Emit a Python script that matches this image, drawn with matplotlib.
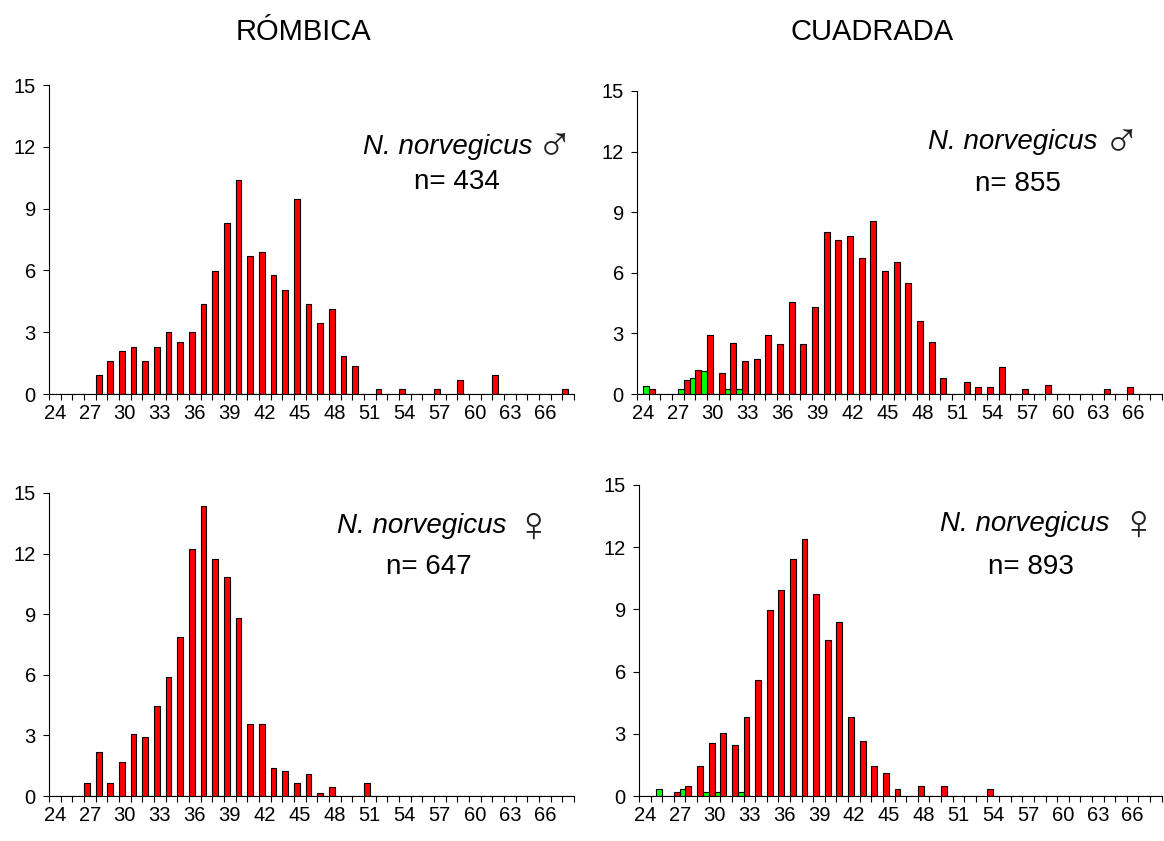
import matplotlib
matplotlib.use('Agg')
import matplotlib.pyplot as plt
from matplotlib.ticker import FixedLocator

plt.rcParams['font.family'] = ['Liberation Sans', 'DejaVu Sans']

# size classes (mm), 24..68
tallas = list(range(24, 69))

# % frequency per size class
rom_macho_rojo = [0, 0, 0, 0, 0.92, 1.61, 2.07, 2.30, 1.61, 2.30, 3.00, 2.53, 3.00, 4.38, 5.99,
                  8.29, 10.37, 6.68, 6.91, 5.76, 5.07, 9.45, 4.38, 3.46, 4.15, 1.84, 1.38, 0, 0.23,
                  0, 0.23, 0, 0, 0.23, 0, 0.69, 0, 0, 0.92, 0, 0, 0, 0, 0, 0.23]
rom_macho_verde = [0] * 45

cua_macho_rojo = [0, 0.23, 0, 0, 0.70, 1.17, 2.92, 1.05, 2.52, 1.64, 1.75, 2.92, 2.46, 4.56, 2.46,
                  4.33, 8.01, 7.60, 7.84, 6.72, 8.54, 6.08, 6.55, 5.50, 3.63, 2.57, 0.77, 0, 0.58,
                  0.35, 0.35, 1.34, 0, 0.23, 0, 0.47, 0, 0, 0, 0, 0.23, 0, 0.35, 0, 0]
cua_macho_verde = [0.41, 0, 0, 0.23, 0.77, 1.14, 0, 0.23, 0.23, 0, 0, 0, 0, 0, 0,
                   0, 0, 0, 0, 0, 0, 0, 0, 0, 0, 0, 0, 0, 0,
                   0, 0, 0, 0, 0, 0, 0, 0, 0, 0, 0, 0, 0, 0, 0, 0]

rom_hembra_rojo = [0, 0, 0, 0.62, 2.16, 0.62, 1.70, 3.09, 2.94, 4.48, 5.87, 7.88, 12.21, 14.37, 11.75,
                   10.82, 8.81, 3.55, 3.55, 1.39, 1.24, 0.62, 1.08, 0.15, 0.46, 0, 0, 0.62, 0,
                   0, 0, 0, 0, 0, 0, 0, 0, 0, 0, 0, 0, 0, 0, 0, 0]
rom_hembra_verde = [0] * 45

cua_hembra_rojo = [0, 0, 0, 0.17, 0.48, 1.43, 2.56, 3.02, 2.44, 3.80, 5.61, 8.96, 9.94, 11.44, 12.39,
                   9.73, 7.51, 8.38, 3.80, 2.64, 1.43, 1.13, 0.35, 0, 0.48, 0, 0.48, 0, 0,
                   0, 0.35, 0, 0, 0, 0, 0, 0, 0, 0, 0, 0, 0, 0, 0, 0]
cua_hembra_verde = [0, 0.35, 0, 0.35, 0, 0.17, 0.17, 0, 0.17, 0, 0, 0, 0, 0, 0,
                    0, 0, 0, 0, 0, 0, 0, 0, 0, 0, 0, 0, 0, 0,
                    0, 0, 0, 0, 0, 0, 0, 0, 0, 0, 0, 0, 0, 0, 0, 0]

paneles = [
    # rect, rojo, verde, sexo, n, (x, y) nombre, (x, y) simbolo, (x, y) n
    ([0.0421, 0.5315, 0.451, 0.3674], rom_macho_rojo, rom_macho_verde, '\u2642', 434,
     (0.92, 0.80), (0.962, 0.80), (0.777, 0.686)),
    ([0.5473, 0.5315, 0.451, 0.3603], cua_macho_rojo, cua_macho_verde, '\u2642', 855,
     (0.876, 0.832), (0.922, 0.828), (0.726, 0.694)),
    ([0.0421, 0.0535, 0.451, 0.3603], rom_hembra_rojo, rom_hembra_verde, '\u2640', 647,
     (0.872, 0.891), (0.922, 0.885), (0.724, 0.756)),
    ([0.549, 0.0535, 0.449, 0.37], cua_hembra_rojo, cua_hembra_verde, '\u2640', 893,
     (0.90, 0.875), (0.954, 0.87), (0.75, 0.736)),
]

fig = plt.figure(figsize=(11.64, 8.41), dpi=100)

for rect, rojo, verde, sexo, n, pos_nombre, pos_sim, pos_n in paneles:
    ax = fig.add_axes(rect)
    idx = list(range(len(tallas)))
    ax.bar(idx, rojo, width=0.5, align='edge', color='#ff0000', edgecolor='black', linewidth=0.8)
    ax.bar([i + 0.5 for i in idx], verde, width=0.5, align='edge', color='#00ff00',
           edgecolor='black', linewidth=0.8)
    ax.set_xlim(0, len(tallas))
    ax.set_ylim(0, 15)
    ax.set_yticks([0, 3, 6, 9, 12, 15])
    ax.set_xticks([i + 0.5 for i in idx[::3]])
    ax.set_xticklabels([str(t) for t in tallas[::3]])
    ax.xaxis.set_minor_locator(FixedLocator(list(range(len(tallas) + 1))))
    ax.tick_params(axis='x', which='major', length=0, pad=7, labelsize=14.5)
    ax.tick_params(axis='x', which='minor', length=4.5, width=0.8, direction='out')
    ax.tick_params(axis='y', length=4.5, width=0.8, pad=5, labelsize=14.5)
    for s in ('top', 'right'):
        ax.spines[s].set_visible(False)
    for s in ('left', 'bottom'):
        ax.spines[s].set_linewidth(0.8)

    ax.text(pos_nombre[0], pos_nombre[1], 'N. norvegicus', transform=ax.transAxes,
            ha='right', va='center', fontsize=20, style='italic')
    ax.text(pos_sim[0], pos_sim[1], sexo, transform=ax.transAxes,
            ha='center', va='center', fontsize=36, color='#222222')
    ax.text(pos_n[0], pos_n[1], 'n= %d' % n, transform=ax.transAxes,
            ha='center', va='center', fontsize=20)

fig.text(0.261, 0.962, 'RÓMBICA', ha='center', va='center', fontsize=21)
fig.text(0.749, 0.962, 'CUADRADA', ha='center', va='center', fontsize=21)

fig.savefig('out.png', dpi=100)
